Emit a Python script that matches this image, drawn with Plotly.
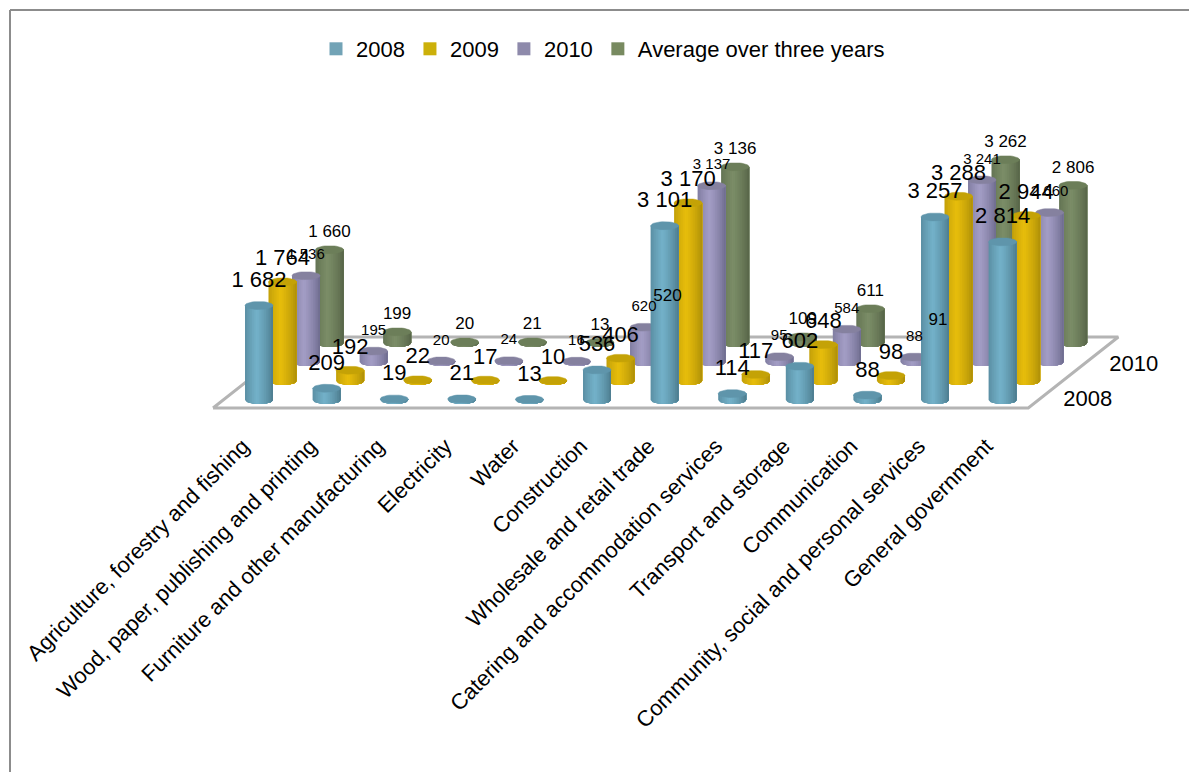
import numpy as np
import plotly.graph_objects as go

# Value added by industry, with the three-year average
categories = [
    "Agriculture, forestry and fishing",
    "Wood, paper, publishing and printing",
    "Furniture and other manufacturing",
    "Electricity",
    "Water",
    "Construction",
    "Wholesale and retail trade",
    "Catering and accommodation services",
    "Transport and storage",
    "Communication",
    "Community, social and personal services",
    "General government",
]
series_names = ["2008", "2009", "2010", "Average over three years"]
values_2008 = [1682, 209, 19, 21, 13, 536, 3101, 114, 602, 88, 3257, 2814]
values_2009 = [1764, 192, 22, 17, 10, 406, 3170, 117, 648, 98, 3288, 2944]
values_2010 = [1536, 195, 20, 24, 16, 620, 3137, 95, 584, 88, 3241, 2660]
values_average = [1660, 199, 20, 21, 13, 520, 3136, 109, 611, 91, 3262, 2806]
all_values = [values_2008, values_2009, values_2010, values_average]

# Page and plot geometry in pixels
W, H = 1189, 772
PLOT_H = 428
PX_PER_CAT = 67.6
PX_PER_UNIT = 0.0562
ORIGIN_X, ORIGIN_Y = 259, 400

# Oblique projection: each series sits one depth step behind the previous one
DEPTH_DX = 23.5 / PX_PER_CAT
DEPTH_DY = 19 / PX_PER_UNIT
RADIUS_X = 14 / PX_PER_CAT
RADIUS_Y = 4 / PX_PER_UNIT

legend_colors = ["#72A3B6", "#CCB00A", "#8E8AAB", "#788A60"]
edge_colors = [(74, 120, 138), (170, 140, 8), (106, 104, 138), (84, 98, 70)]
light_colors = [(116, 178, 202), (232, 190, 12), (164, 158, 198), (124, 142, 104)]
top_colors = ["#5F95AB", "#C4A206", "#85819F", "#6C7E59"]
label_sizes = [22, 22, 15, 17]
label_gaps = [24, 22, 20, 17]

STRIPS = 16
edges = np.linspace(-1, 1, STRIPS + 1)


def strip_color(series, u):
    # Cylinder highlight sits a little left of the centre line
    t = np.clip(1 - abs(u + 0.15) / 1.15, 0, 1) ** 0.7
    rgb = [e + (l - e) * t for e, l in zip(edge_colors[series], light_colors[series])]
    return "rgb(%d,%d,%d)" % tuple(rgb)


def group_label(v):
    return f"{v:,}".replace(",", " ")


fig = go.Figure()

# Floor of the chart
fl_left, fl_right = -0.68, 11.38
fl_front, fl_back = -8 / PX_PER_UNIT, 63 / PX_PER_UNIT
fl_shift = 90 / PX_PER_CAT
fig.add_trace(go.Scatter(
    x=[fl_left, fl_right, fl_right + fl_shift, fl_left + fl_shift, fl_left],
    y=[fl_front, fl_front, fl_back, fl_back, fl_front],
    mode="lines", fill="toself", fillcolor="white",
    line=dict(color="#B4B4B4", width=3),
    showlegend=False, hoverinfo="skip",
))

# Cylinders, painted from the back row to the front row
for s in range(3, -1, -1):
    cx = np.arange(len(categories)) + s * DEPTH_DX
    base = s * DEPTH_DY
    for k in range(STRIPS):
        # every band runs to the right edge, so the next band covers its seam
        arc = edges[k:]
        xs, ys = [], []
        for c, v in zip(cx, all_values[s]):
            top = base + v
            xs += list(c + arc * RADIUS_X) + [c + RADIUS_X, c + arc[0] * RADIUS_X, c + arc[0] * RADIUS_X, None]
            ys += list(base - RADIUS_Y * np.sqrt(1 - arc ** 2)) + [top, top, base - RADIUS_Y * np.sqrt(1 - arc[0] ** 2), None]
        col = strip_color(s, (edges[k] + edges[k + 1]) / 2)
        fig.add_trace(go.Scatter(
            x=xs, y=ys, mode="lines", fill="toself", fillcolor=col,
            line=dict(color=col, width=0),
            showlegend=False, hoverinfo="skip",
        ))
    # Top caps
    theta = np.linspace(0, 2 * np.pi, 37)
    xs, ys = [], []
    for c, v in zip(cx, all_values[s]):
        xs += list(c + RADIUS_X * np.cos(theta)) + [None]
        ys += list(base + v + RADIUS_Y * np.sin(theta)) + [None]
    fig.add_trace(go.Scatter(
        x=xs, y=ys, mode="lines", fill="toself", fillcolor=top_colors[s],
        line=dict(color=top_colors[s], width=0.5),
        showlegend=False, hoverinfo="skip",
    ))

# Legend entries
for name, col in zip(series_names, legend_colors):
    fig.add_trace(go.Scatter(
        x=[None], y=[None], mode="markers", name=name,
        marker=dict(symbol="square", size=13, color=col),
    ))

# Value labels above each cylinder
for s in range(4):
    cx = np.arange(len(categories)) + s * DEPTH_DX
    base = s * DEPTH_DY
    fig.add_trace(go.Scatter(
        x=cx,
        y=[base + v + label_gaps[s] / PX_PER_UNIT for v in all_values[s]],
        mode="text",
        text=[group_label(v) for v in all_values[s]],
        textposition="middle center",
        textfont=dict(size=label_sizes[s], color="black", family="Liberation Sans"),
        showlegend=False, hoverinfo="skip",
    ))

# Depth axis labels beside the floor
fig.add_trace(go.Scatter(
    x=[fl_right + 0.88, fl_right + 1.56],
    y=[0 / PX_PER_UNIT, 35 / PX_PER_UNIT],
    mode="text", text=["2008", "2010"], textposition="middle center",
    textfont=dict(size=22, color="black", family="Liberation Sans"),
    showlegend=False, hoverinfo="skip",
))

frame_x = 10 / W
frame_y = (PLOT_H - 10) / PLOT_H
frame_bottom = (PLOT_H - H) / PLOT_H

fig.update_layout(
    width=W, height=H,
    margin=dict(l=0, r=0, t=0, b=H - PLOT_H, autoexpand=False),
    paper_bgcolor="white", plot_bgcolor="white",
    font=dict(family="Liberation Sans", color="black"),
    legend=dict(
        orientation="h", x=316 / W, y=(PLOT_H - 49) / PLOT_H,
        xanchor="left", yanchor="middle",
        font=dict(size=22), bgcolor="rgba(0,0,0,0)",
    ),
    shapes=[
        dict(type="line", xref="paper", yref="paper", x0=frame_x, x1=1, y0=frame_y, y1=frame_y,
             line=dict(color="#8C8C8C", width=2)),
        dict(type="line", xref="paper", yref="paper", x0=frame_x, x1=frame_x, y0=frame_y, y1=frame_bottom,
             line=dict(color="#8C8C8C", width=2)),
    ],
    xaxis=dict(
        range=[(0 - ORIGIN_X) / PX_PER_CAT, (W - ORIGIN_X) / PX_PER_CAT],
        tickmode="array",
        tickvals=[i - 0.24 for i in range(len(categories))],
        ticktext=categories,
        tickangle=-45,
        tickfont=dict(size=22, color="black", family="Liberation Sans"),
        showgrid=False, zeroline=False, showline=False, ticks="",
        automargin=False, fixedrange=True,
    ),
    yaxis=dict(
        range=[(ORIGIN_Y - PLOT_H) / PX_PER_UNIT, ORIGIN_Y / PX_PER_UNIT],
        visible=False, fixedrange=True,
    ),
)

fig.write_html("out.html")
